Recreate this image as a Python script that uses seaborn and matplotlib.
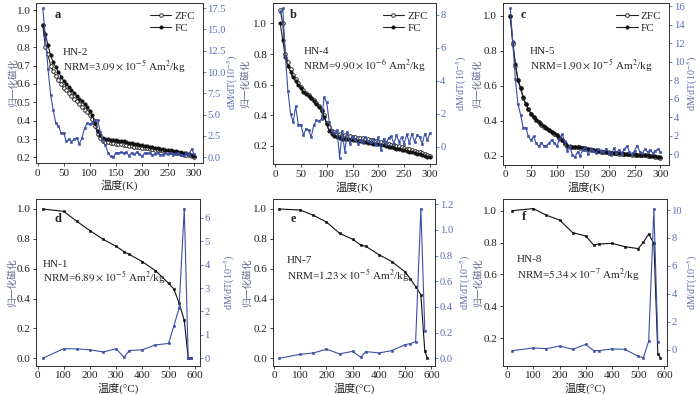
import matplotlib
matplotlib.use('Agg')
import matplotlib.pyplot as plt
import matplotlib.ticker as mticker
import numpy as np
import pandas as pd
import seaborn as sns

sns.set_theme(style='ticks')
plt.rcParams['font.family'] = ['Liberation Serif', 'Noto Sans CJK SC', 'DejaVu Sans']
plt.rcParams['mathtext.fontset'] = 'stix'
plt.rcParams['axes.unicode_minus'] = False

# ---------------- data ----------------
T_low = list(range(10, 305, 5))

zfc_a = [0.92, 0.80, 0.76, 0.70, 0.67, 0.645, 0.62, 0.60, 0.58, 0.565, 0.55, 0.535, 0.52, 0.505, 0.49,
         0.475, 0.46, 0.445, 0.43, 0.41, 0.37, 0.33, 0.305, 0.29, 0.285, 0.282, 0.28, 0.278, 0.276, 0.273,
         0.271, 0.268, 0.266, 0.263, 0.261, 0.259, 0.257, 0.255, 0.253, 0.251, 0.249, 0.247, 0.245, 0.243,
         0.241, 0.239, 0.237, 0.235, 0.232, 0.23, 0.228, 0.226, 0.223, 0.221, 0.218, 0.215, 0.211, 0.206, 0.201]
fc_a = [0.92, 0.87, 0.81, 0.755, 0.72, 0.69, 0.665, 0.64, 0.615, 0.60, 0.585, 0.565, 0.55, 0.535, 0.52,
        0.505, 0.49, 0.475, 0.455, 0.43, 0.385, 0.345, 0.32, 0.305, 0.30, 0.298, 0.297, 0.295, 0.294, 0.292,
        0.29, 0.287, 0.284, 0.281, 0.278, 0.275, 0.272, 0.269, 0.266, 0.263, 0.261, 0.258, 0.256, 0.253,
        0.251, 0.248, 0.246, 0.243, 0.241, 0.238, 0.236, 0.233, 0.231, 0.228, 0.225, 0.222, 0.218, 0.213, 0.208]
dmdt_a = [17.5, 14.1, 10.4, 7.35, 5.5, 4.0, 3.65, 2.9, 2.85, 1.9, 2.1, 1.85, 2.1, 2.3, 1.55,
          2.25, 3.4, 4.0, 3.9, 4.0, 4.4, 4.4, 3.0, 2.0, 1.4, 0.55, 0.1, 0.0, 0.55, 0.5,
          0.6, 0.5, 0.6, 0.2, 0.55, 0.35, 0.6, 0.4, 0.1, 0.5, 0.45, 0.55, 0.3, 0.4,
          0.5, 0.3, 0.25, 0.45, 0.35, 0.55, 0.3, 0.4, 0.45, 0.3, 0.1, 0.5, 0.3, 0.95, 0.4]

zfc_b = [1.09, 1.0, 0.80, 0.75, 0.70, 0.665, 0.635, 0.61, 0.585, 0.565, 0.545, 0.53, 0.515, 0.50, 0.48,
         0.46, 0.435, 0.40, 0.35, 0.32, 0.30, 0.29, 0.28, 0.275, 0.272, 0.27, 0.267, 0.264, 0.26, 0.257,
         0.254, 0.251, 0.248, 0.245, 0.242, 0.239, 0.236, 0.232, 0.228, 0.224, 0.22, 0.216, 0.212, 0.208,
         0.204, 0.20, 0.196, 0.191, 0.186, 0.181, 0.177, 0.172, 0.167, 0.162, 0.157, 0.152, 0.147, 0.14, 0.133]
fc_b = [1.0, 0.89, 0.78, 0.72, 0.685, 0.65, 0.625, 0.60, 0.575, 0.555, 0.54, 0.525, 0.51, 0.495, 0.475,
        0.455, 0.43, 0.39, 0.34, 0.30, 0.28, 0.265, 0.255, 0.25, 0.247, 0.245, 0.243, 0.241, 0.239, 0.236,
        0.233, 0.23, 0.227, 0.224, 0.221, 0.218, 0.215, 0.212, 0.209, 0.206, 0.202, 0.198, 0.194, 0.19,
        0.186, 0.182, 0.178, 0.174, 0.17, 0.166, 0.162, 0.158, 0.154, 0.149, 0.144, 0.139, 0.134, 0.13, 0.125]
dmdt_b = [8.2, 8.4, 5.5, 3.4, 2.0, 1.5, 2.45, 1.35, 1.35, 0.7, 1.1, 1.0, 0.6, 1.3, 1.6,
          1.55, 1.7, 3.0, 2.7, 1.5, 1.05, 0.85, 1.0, -0.65, 0.95, -0.3, 0.9, 0.2, 0.6, 0.45,
          0.2, 0.4, 0.3, 0.6, 0.35, 0.3, 0.5, 0.1, 0.6, -0.2, 0.5, 0.2, 0.55, 0.65,
          0.2, 0.7, 0.3, 0.6, 0.2, 0.75, 0.25, 0.8, 0.3, 0.7, 0.6, 0.2, 0.8, 0.4, 0.85]

zfc_c = [1.0, 0.84, 0.715, 0.63, 0.584, 0.532, 0.494, 0.466, 0.438, 0.419, 0.404, 0.391, 0.378, 0.367, 0.357,
         0.346, 0.336, 0.326, 0.316, 0.303, 0.288, 0.27, 0.256, 0.251, 0.25, 0.249, 0.248, 0.246, 0.244, 0.241,
         0.238, 0.235, 0.232, 0.229, 0.226, 0.224, 0.222, 0.22, 0.218, 0.216, 0.215, 0.213, 0.212, 0.211,
         0.21, 0.209, 0.208, 0.207, 0.206, 0.205, 0.204, 0.203, 0.202, 0.2, 0.198, 0.196, 0.194, 0.192, 0.19]
fc_c = [1.0, 0.847, 0.724, 0.635, 0.588, 0.535, 0.497, 0.469, 0.44, 0.421, 0.406, 0.393, 0.38, 0.369, 0.359,
        0.348, 0.338, 0.328, 0.318, 0.305, 0.29, 0.272, 0.258, 0.253, 0.252, 0.251, 0.25, 0.248, 0.246, 0.243,
        0.24, 0.237, 0.234, 0.231, 0.228, 0.226, 0.224, 0.222, 0.22, 0.218, 0.217, 0.215, 0.214, 0.213,
        0.212, 0.211, 0.21, 0.209, 0.208, 0.207, 0.206, 0.205, 0.204, 0.202, 0.2, 0.198, 0.196, 0.194, 0.192]
dmdt_c = [15.8, 12.1, 8.1, 5.4, 4.3, 2.9, 2.9, 1.95, 1.5, 1.95, 1.2, 0.85, 1.25, 0.9, 0.95,
          1.2, 1.55, 1.25, 0.9, 1.6, 2.2, 1.4, 0.4, 0.9, -0.1, -0.3, 0.3, -0.2, 0.5, 0.8,
          0.0, 0.55, 0.35, 0.1, 0.6, 0.4, 0.2, 0.6, 0.3, -0.1, 0.65, 0.15, 0.5, 0.05,
          0.55, 0.9, 0.3, 0.0, 0.4, 0.95, 0.3, 0.1, 0.6, 0.25, 0.5, 0.15, 0.4, 0.55, 0.3]

T_high = [20, 100, 150, 200, 250, 300, 330, 350, 400, 450, 500, 520, 540, 560, 575, 585]
mag_d = [1.0, 0.984, 0.917, 0.855, 0.797, 0.75, 0.714, 0.696, 0.647, 0.587, 0.502, 0.464, 0.371, 0.254, 0.0, 0.0]
dmdt_d = [0.0, 0.41, 0.40, 0.36, 0.27, 0.40, 0.04, 0.33, 0.36, 0.57, 0.63, 1.37, 2.14, 6.4, 0.0, 0.0]
mag_e = [1.0, 0.993, 0.958, 0.913, 0.837, 0.797, 0.759, 0.75, 0.694, 0.647, 0.578, 0.531, 0.48, 0.426, 0.047, 0.0]
dmdt_e = [0.0, 0.031, 0.041, 0.07, 0.034, 0.054, 0.008, 0.052, 0.041, 0.06, 0.106, 0.114, 0.13, 1.166, 0.212]
mag_f = [1.0, 1.013, 0.971, 0.941, 0.862, 0.841, 0.785, 0.791, 0.795, 0.774, 0.762, 0.802, 0.854, 0.795, 0.102, 0.077]
dmdt_f = [-0.07, 0.12, 0.07, 0.26, 0.02, 0.38, -0.07, -0.07, 0.05, 0.02, -0.48, -0.57, 0.6, 10.1, 0.55]

letters = ['a', 'b', 'c', 'd', 'e', 'f']
samples = ['HN-2', 'HN-4', 'HN-5', 'HN-1', 'HN-7', 'HN-8']
nrm_mant = ['3.09', '9.90', '1.90', '6.89', '1.23', '5.34']
nrm_exp = ['-5', '-6', '-5', '-5', '-5', '-7']

# ---------------- style ----------------
BLUE = '#3a50a6'
BLUE_TXT = '#5a6db0'
LAB_GRAY = '#5d6a8e'
FS = 8

fig = plt.figure(figsize=(7.0, 3.94), dpi=100)

W, H = 700, 394
edges = [(36, 203, 3, 163), (272.7, 435.7, 3, 164.3), (502.7, 669.3, 3, 164.7),
         (36, 200, 199, 365.7), (272.7, 435.3, 199, 365.7), (502.7, 667, 199, 365.7)]
# label centre x-positions in pixels (left / right y labels)
left_lab_x = [13, 245, 477, 12, 247, 478]
right_lab_x = [232, 461, 692, 229, 465, 692]

left_lims = [(0.17, 1.04), (0.079, 1.134), (0.149, 1.072), (-0.05, 1.067), (-0.05, 1.067), (0.028, 1.073)]
right_lims = [(-0.67, 18.1), (-1.06, 8.72), (-1.12, 16.36), (-0.32, 6.81), (-0.058, 1.24), (-1.15, 10.79)]
left_ticks = [np.arange(0.2, 1.01, 0.1), np.arange(0.2, 1.01, 0.2), np.arange(0.2, 1.01, 0.2),
              np.arange(0.0, 1.01, 0.2), np.arange(0.0, 1.01, 0.2), np.arange(0.2, 1.01, 0.2)]
right_ticks = [np.arange(0, 17.6, 2.5), np.arange(0, 8.1, 2), np.arange(0, 16.1, 2),
               np.arange(0, 6.1, 1), np.arange(0, 1.21, 0.2), np.arange(0, 10.1, 2)]
right_fmt = ['%.1f', '%d', '%d', '%d', '%.1f', '%d']
xlims = [(-3, 317), (-4.5, 311), (-4.5, 317), (-6, 620), (-5, 615), (-17, 610)]

letter_pos = [(0.11, 0.925), (0.106, 0.925), (0.11, 0.925), (0.11, 0.88), (0.11, 0.88), (0.116, 0.89)]
sample_pos = [(0.16, 0.69), (0.188, 0.70), (0.164, 0.70), (0.04, 0.61), (0.086, 0.63), (0.085, 0.636)]
nrm_dy = [0.085, 0.085, 0.085, 0.08, 0.09, 0.095]

top_data = [(zfc_a, fc_a, dmdt_a), (zfc_b, fc_b, dmdt_b), (zfc_c, fc_c, dmdt_c)]
bot_data = [(mag_d, dmdt_d), (mag_e, dmdt_e), (mag_f, dmdt_f)]

for i in range(6):
    l, r, t, b = edges[i]
    ax = fig.add_axes([l / W, 1 - b / H, (r - l) / W, (b - t) / H])
    ax2 = ax.twinx()
    if i < 3:
        zfc, fc, dm = top_data[i]
        df = pd.DataFrame({'T': T_low, 'ZFC': zfc, 'FC': fc, 'dM': dm})
        sns.lineplot(data=df, x='T', y='ZFC', ax=ax, color='#222222', lw=0.8, marker='o', ms=2.6,
                     markerfacecolor='white', markeredgecolor='#111111', markeredgewidth=0.6, label='ZFC')
        sns.lineplot(data=df, x='T', y='FC', ax=ax, color='#222222', lw=0.8, marker='o', ms=2.4,
                     markerfacecolor='#111111', markeredgecolor='#111111', markeredgewidth=0.5, label='FC')
        sns.lineplot(data=df, x='T', y='dM', ax=ax2, color=BLUE, lw=0.8, marker='s', ms=2.0,
                     markerfacecolor=BLUE, markeredgecolor=BLUE, markeredgewidth=0.4, legend=False)
        ax.legend(loc='upper right', frameon=False, fontsize=8, handlelength=1.9,
                  handletextpad=0.3, labelspacing=0.25, borderaxespad=0.3)
        ax.set_xticks(np.arange(0, 301, 50))
        ax.set_xlabel('温度(K)', fontsize=8, labelpad=1.5)
    else:
        mag, dm = bot_data[i - 3]
        dfm = pd.DataFrame({'T': T_high, 'M': mag})
        dfd = pd.DataFrame({'T': T_high[:len(dm)], 'dM': dm})
        sns.lineplot(data=dfm, x='T', y='M', ax=ax, color='#111111', lw=0.8, marker='s', ms=2.0,
                     markerfacecolor='#111111', markeredgecolor='#111111', markeredgewidth=0.4, legend=False)
        sns.lineplot(data=dfd, x='T', y='dM', ax=ax2, color=BLUE, lw=0.8, marker='s', ms=2.0,
                     markerfacecolor=BLUE, markeredgecolor=BLUE, markeredgewidth=0.4, legend=False)
        ax.set_xticks(np.arange(0, 601, 100))
        ax.set_xlabel('温度(°C)', fontsize=8, labelpad=1.5)

    ax.set_xlim(*xlims[i])
    ax.set_ylim(*left_lims[i])
    ax2.set_ylim(*right_lims[i])
    ax.set_yticks(left_ticks[i])
    ax.yaxis.set_major_formatter(mticker.FormatStrFormatter('%.1f'))
    ax2.set_yticks(right_ticks[i])
    ax2.yaxis.set_major_formatter(mticker.FormatStrFormatter(right_fmt[i]))
    ax.set_ylabel('归一化磁化', fontsize=7, color=LAB_GRAY, va='center')
    ax2.set_ylabel('dM/dT(10$^{-5}$)', fontsize=7.2, color=BLUE_TXT, va='center')
    ax.yaxis.set_label_coords((left_lab_x[i] - l) / (r - l), 0.5)
    ax2.yaxis.set_label_coords((right_lab_x[i] - l) / (r - l), 0.5)

    ax.tick_params(axis='both', labelsize=FS, length=2.5, width=0.6, pad=1.5, colors='#222222')
    ax2.tick_params(axis='y', labelsize=7.6, length=2.2, width=0.6, pad=1.0, colors=BLUE_TXT)
    for a in (ax, ax2):
        for s in a.spines.values():
            s.set_linewidth(0.7)
            s.set_color('#333333')

    lx, ly = letter_pos[i]
    ax.text(lx, ly, letters[i], transform=ax.transAxes, fontsize=9, fontweight='bold', va='center', ha='left')
    sx, sy = sample_pos[i]
    ax.text(sx, sy, samples[i], transform=ax.transAxes, fontsize=8, va='center', ha='left')
    ax.text(sx, sy - nrm_dy[i], r'NRM=$%s\times10^{%s}$ Am$^{2}$/kg' % (nrm_mant[i], nrm_exp[i]),
            transform=ax.transAxes, fontsize=8, va='center', ha='left')

fig.savefig('out.png', dpi=100)
